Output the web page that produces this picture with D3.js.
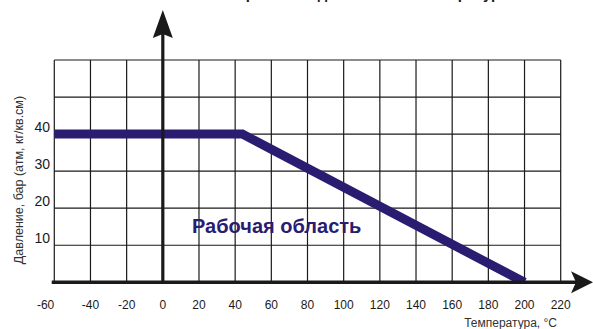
<!DOCTYPE html>
<html>
<head>
<meta charset="utf-8">
<script src="https://cdn.jsdelivr.net/npm/d3@7"></script>
<style>
  html, body { margin: 0; padding: 0; background: #fff; }
  svg { display: block; }
</style>
</head>
<body>
<svg id="chart" width="593" height="329"></svg>
<script>
// Temperature axis (°C) and pressure axis (bar) tick values
const tempTicks = [-60, -40, -20, 0, 20, 40, 60, 80, 100, 120, 140, 160, 180, 200, 220];
const pressureGrid = [0, 10, 20, 30, 40, 50, 60];
const pressureLabels = [10, 20, 30, 40];

// Boundary of the permitted working region: pressure limit vs temperature
const boundaryTemp = [-60, 44, 200];
const boundaryPressure = [40, 40, 0];

const svg = d3.select("#chart");
const W = 593, H = 329;

const x = d3.scaleLinear().domain([-60, 220]).range([54.3, 560.7]);
const y = d3.scaleLinear().domain([0, 60]).range([282.3, 60]);

const ink = "#1a1a1a";
const navy = "#2a1c70";

// Title (runs off the top edge, as in the printed sheet)
svg.append("text")
  .attr("x", 328).attr("y", -1)
  .attr("text-anchor", "middle")
  .attr("font-family", "Arial, 'Liberation Sans', sans-serif")
  .attr("font-weight", "bold")
  .attr("font-size", 15)
  .attr("fill", ink)
  .text("Зависимость рабочего давления от температуры");

// Grid
const grid = svg.append("g").attr("stroke", ink).attr("stroke-width", 1.2);
grid.selectAll("line.v").data(tempTicks).join("line")
  .attr("class", "v")
  .attr("x1", d => x(d)).attr("x2", d => x(d))
  .attr("y1", y(60)).attr("y2", y(0));
grid.selectAll("line.h").data(pressureGrid).join("line")
  .attr("class", "h")
  .attr("x1", x(-60)).attr("x2", x(220))
  .attr("y1", d => y(d)).attr("y2", d => y(d));

// Working region boundary
svg.append("clipPath").attr("id", "plotClip")
  .append("rect").attr("x", 0).attr("y", 0).attr("width", W).attr("height", y(0));

const boundary = d3.range(boundaryTemp.length).map(i => [boundaryTemp[i], boundaryPressure[i]]);
svg.append("path")
  .datum(boundary)
  .attr("clip-path", "url(#plotClip)")
  .attr("fill", "none")
  .attr("stroke", navy)
  .attr("stroke-width", 9)
  .attr("stroke-linejoin", "miter")
  .attr("stroke-linecap", "butt")
  .attr("d", d3.line().x(d => x(d[0])).y(d => y(d[1])));

// Region caption
svg.append("text")
  .attr("x", 192).attr("y", 233)
  .attr("font-family", "Arial, 'Liberation Sans', sans-serif")
  .attr("font-weight", "bold")
  .attr("font-size", 20)
  .attr("fill", navy)
  .text("Рабочая область");

// Axes with arrowheads
const axisX0 = x(0);
svg.append("line")
  .attr("x1", 51.7).attr("x2", 578)
  .attr("y1", y(0)).attr("y2", y(0))
  .attr("stroke", ink).attr("stroke-width", 3.4);
svg.append("path")
  .attr("fill", ink)
  .attr("d", `M593,${y(0)} L571,${y(0) - 11} L576,${y(0)} L571,${y(0) + 11} Z`);

svg.append("line")
  .attr("x1", axisX0).attr("x2", axisX0)
  .attr("y1", y(0)).attr("y2", 30)
  .attr("stroke", ink).attr("stroke-width", 3.2);
svg.append("path")
  .attr("fill", ink)
  .attr("d", `M${axisX0},10 L${axisX0 - 10},38 L${axisX0},34 L${axisX0 + 10},38 Z`);

// Temperature tick labels
svg.append("g")
  .attr("font-family", "Arial, 'Liberation Sans', sans-serif")
  .attr("font-size", 12)
  .attr("fill", ink)
  .selectAll("text").data(tempTicks).join("text")
  .attr("x", d => x(d))
  .attr("text-anchor", (d, i) => i === 0 ? "end" : "middle")
  .attr("y", 309)
  .text(d => d);

// Pressure tick labels
svg.append("g")
  .attr("font-family", "Arial, 'Liberation Sans', sans-serif")
  .attr("font-size", 14)
  .attr("fill", ink)
  .selectAll("text").data(pressureLabels).join("text")
  .attr("x", 50)
  .attr("y", d => y(d) - 2)
  .attr("text-anchor", "end")
  .text(d => d);

// Axis titles
svg.append("text")
  .attr("x", 557).attr("y", 327)
  .attr("text-anchor", "end")
  .attr("font-family", "Arial, 'Liberation Sans', sans-serif")
  .attr("font-size", 12)
  .attr("fill", "#333")
  .text("Температура, °С");

svg.append("text")
  .attr("transform", "translate(23,180) rotate(-90)")
  .attr("text-anchor", "middle")
  .attr("font-family", "Arial, 'Liberation Sans', sans-serif")
  .attr("font-size", 12.5)
  .attr("fill", "#333")
  .text("Давление, бар (атм, кг/кв.см)");
</script>
</body>
</html>
